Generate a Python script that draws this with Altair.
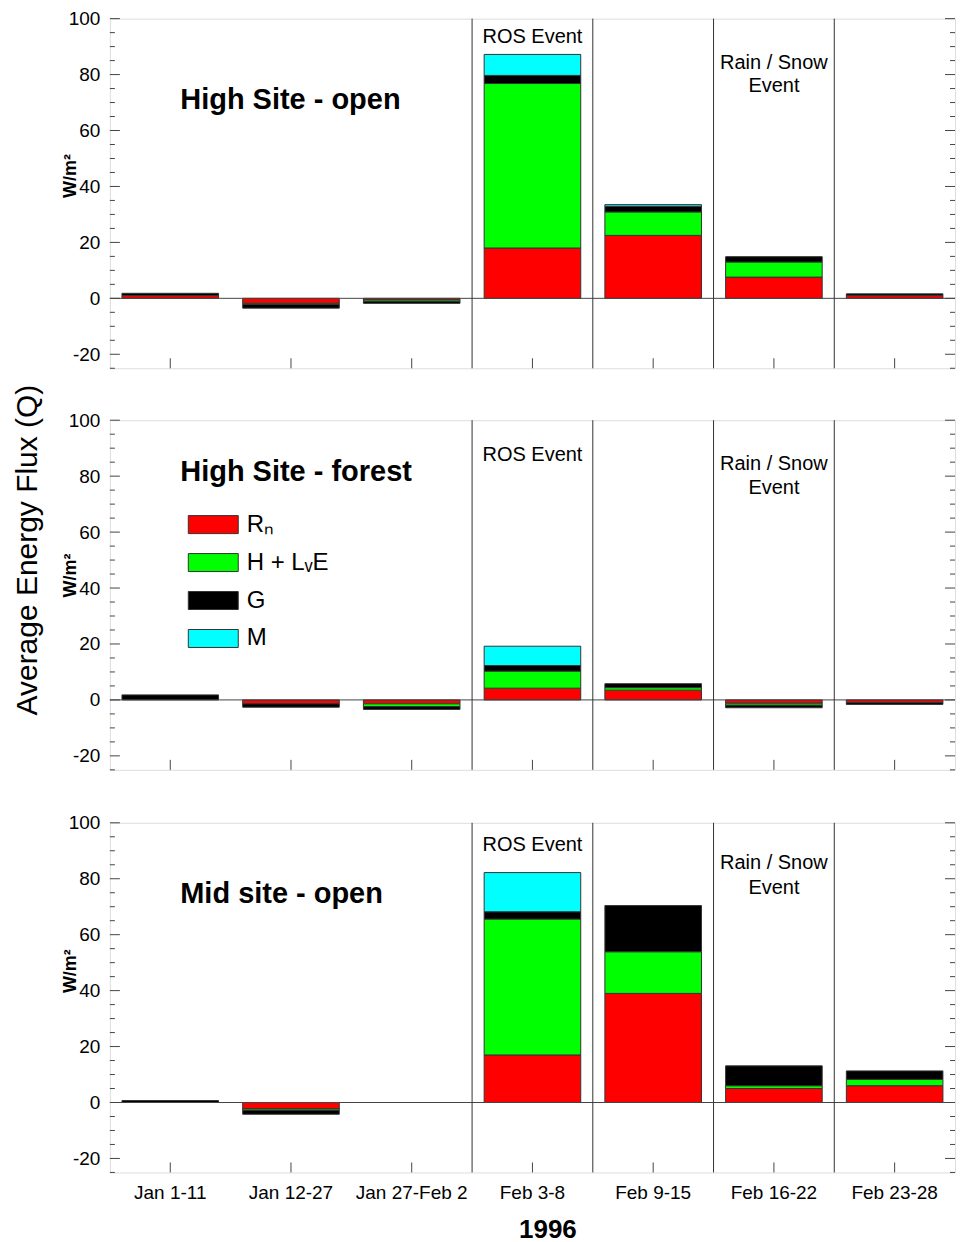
import altair as alt
import pandas as pd

# ---------------- data ----------------
categories = ["Jan 1-11", "Jan 12-27", "Jan 27-Feb 2", "Feb 3-8",
              "Feb 9-15", "Feb 16-22", "Feb 23-28"]
components = ["Rₙ", "H + LᵥE", "G", "M"]
colors = ["#ff0000", "#00ff00", "#000000", "#00ffff"]

panel_names = ["High Site - open", "High Site - forest", "Mid site - open"]

high_open_rn = [1.0, -1.8, -0.6, 18.0, 22.5, 7.6, 1.0]
high_open_h = [0.0, -0.4, -0.5, 58.8, 8.4, 5.4, 0.0]
high_open_g = [0.8, -1.3, -0.7, 2.9, 2.0, 1.9, 0.6]
high_open_m = [0.0, 0.0, 0.0, 7.5, 0.6, 0.0, 0.0]

high_forest_rn = [0.0, -1.4, -1.4, 4.2, 3.5, -1.2, -1.0]
high_forest_h = [0.0, 0.0, -1.0, 6.1, 0.9, -0.7, 0.0]
high_forest_g = [1.8, -1.2, -1.0, 2.0, 1.4, -0.9, -0.6]
high_forest_m = [0.0, 0.0, 0.0, 6.9, 0.0, 0.0, 0.0]

mid_open_rn = [0.0, -2.3, 0.0, 17.0, 39.0, 5.0, 6.0]
mid_open_h = [0.0, -0.5, 0.0, 48.6, 14.9, 1.0, 2.3]
mid_open_g = [0.7, -1.4, 0.0, 2.6, 16.5, 7.1, 3.0]
mid_open_m = [0.0, 0.0, 0.0, 14.0, 0.0, 0.0, 0.0]

series = [
    (high_open_rn, high_open_h, high_open_g, high_open_m),
    (high_forest_rn, high_forest_h, high_forest_g, high_forest_m),
    (mid_open_rn, mid_open_h, mid_open_g, mid_open_m),
]

event_categories = ["Feb 3-8", "Feb 9-15", "Feb 16-22", "Feb 23-28"]
major_ticks = [-20, 0, 20, 40, 60, 80, 100]
minor_ticks = [-25, -15, -10, -5, 5, 10, 15, 25, 30, 35, 45, 50, 55, 65, 70, 75, 85, 90, 95]

# annotation text (category, value)
site_label_y = [70.8, 81.4, 74.6]
ros_y = [93.6, 87.5, 92.1]
rain_y = [(84.3, 75.8), (84.3, 75.7), (85.7, 76.8)]
unit_title_y = [157, 155, 148]

# ---------------- layout constants ----------------
W, H = 846, 350
FONT = "Liberation Sans"

y_scale = alt.Scale(domain=[-25, 100], nice=False, zero=False)
x_scale = alt.Scale(domain=categories, paddingInner=0, paddingOuter=0)
color_scale = alt.Scale(domain=components, range=colors)


def make_panel(idx):
    rn, h, g, m = series[idx]
    rows = []
    for ci, cat in enumerate(categories):
        for k, vals in enumerate((rn, h, g, m)):
            if vals[ci] != 0:
                rows.append({"cat": cat, "comp": components[k], "ord": k, "value": vals[ci]})
    df = pd.DataFrame(rows)

    last = idx == 2
    if last:
        xaxis = alt.Axis(title="1996", labelAngle=0, ticks=False, domain=False,
                         labelFont=FONT, labelFontSize=19, labelColor="black",
                         labelPadding=11, titleFont=FONT, titleFontSize=26,
                         titleFontWeight="bold", titleColor="black", titlePadding=14,
                         titleX=438)
    else:
        xaxis = None
    yaxis = alt.Axis(values=major_ticks, ticks=False, domain=False, grid=False,
                     labelExpr="'' + datum.value",
                     labelFont=FONT, labelFontSize=19, labelColor="black",
                     labelPadding=10, title="W/m²", titleFont=FONT,
                     titleFontSize=18, titleFontWeight="bold", titleColor="black",
                     titleAngle=270, titleX=-30, titleY=unit_title_y[idx],
                     titleBaseline="bottom")

    def X(**kw):
        return alt.X("cat:N", scale=x_scale, sort=categories, axis=xaxis,
                     title="1996", **kw)

    def Y(field):
        return alt.Y(field, scale=y_scale, axis=yaxis, title="W/m²")

    if idx == 1:
        legend = alt.Legend(orient="none", legendX=78, legendY=79, title=None,
                            symbolType="M-1,-0.36L1,-0.36L1,0.36L-1,0.36Z",
                            symbolSize=2500, symbolStrokeColor="#333",
                            symbolStrokeWidth=1, symbolOpacity=1,
                            labelFont=FONT, labelFontSize=24, labelColor="black",
                            labelOffset=8, rowPadding=0)
    else:
        legend = None

    bars = alt.Chart(df).mark_bar(width={"band": 0.8}, stroke="#333",
                                  strokeWidth=1, opacity=1).encode(
        x=X(),
        y=alt.Y("value:Q", scale=y_scale, axis=yaxis, title="W/m²", stack="zero"),
        color=alt.Color("comp:N", scale=color_scale, legend=legend),
        order=alt.Order("ord:Q"),
    )

    zero = alt.Chart(pd.DataFrame({"z": [0]})).mark_rule(
        color="#444", strokeWidth=1).encode(y=Y("z:Q"))

    bounds = alt.Chart(pd.DataFrame({"cat": event_categories})).mark_rule(
        color="#333", strokeWidth=1).encode(x=X(bandPosition=0))

    xt = alt.Chart(pd.DataFrame({"cat": categories})).mark_rule(
        color="#444").encode(x=X(), y=alt.value(H), y2=alt.value(H - 10))

    tdf_major = pd.DataFrame({"v": major_ticks})
    tdf_minor = pd.DataFrame({"v": minor_ticks})
    yl_major = alt.Chart(tdf_major).mark_rule(color="#444").encode(
        y=Y("v:Q"), x=alt.value(0), x2=alt.value(10))
    yl_minor = alt.Chart(tdf_minor).mark_rule(color="#444").encode(
        y=Y("v:Q"), x=alt.value(0), x2=alt.value(5))
    yr_major = alt.Chart(tdf_major).mark_rule(color="#444").encode(
        y=Y("v:Q"), x=alt.value(W), x2=alt.value(W - 10))
    yr_minor = alt.Chart(tdf_minor).mark_rule(color="#444").encode(
        y=Y("v:Q"), x=alt.value(W), x2=alt.value(W - 5))

    site = alt.Chart(pd.DataFrame({"cat": [categories[0]], "v": [site_label_y[idx]],
                                   "t": [panel_names[idx]]})).mark_text(
        font=FONT, fontSize=29, fontWeight="bold", align="left", baseline="middle",
        dx=10, color="black").encode(x=X(), y=Y("v:Q"), text="t:N")

    ev = pd.DataFrame({
        "cat": ["Feb 3-8", "Feb 16-22", "Feb 16-22"],
        "v": [ros_y[idx], rain_y[idx][0], rain_y[idx][1]],
        "t": ["ROS Event", "Rain / Snow", "Event"],
    })
    events = alt.Chart(ev).mark_text(font=FONT, fontSize=20, align="center",
                                     baseline="middle", color="black").encode(
        x=X(), y=Y("v:Q"), text="t:N")

    layers = [bars, zero, bounds, xt, yl_major, yl_minor, yr_major, yr_minor, site, events]

    if idx == 1:
        big = alt.Chart(pd.DataFrame({"t": ["Average Energy Flux (Q)"]})).mark_text(
            font=FONT, fontSize=30, angle=270, align="center", baseline="middle",
            color="black").encode(x=alt.value(-82), y=alt.value(130), text="t:N")
        layers.append(big)

    return alt.layer(*layers).properties(width=W, height=H)


top_pair = alt.vconcat(make_panel(0), make_panel(1), spacing=14).resolve_legend(
    color="independent"
)
chart = alt.vconcat(top_pair, make_panel(2), spacing=42).resolve_legend(
    color="independent"
).properties(
    padding={"left": 12, "top": 8, "right": 5, "bottom": 5}
).configure_view(stroke="#555", strokeWidth=1).configure(background="white")

chart.save("out.html", embed_options={"renderer": "svg", "actions": False})
